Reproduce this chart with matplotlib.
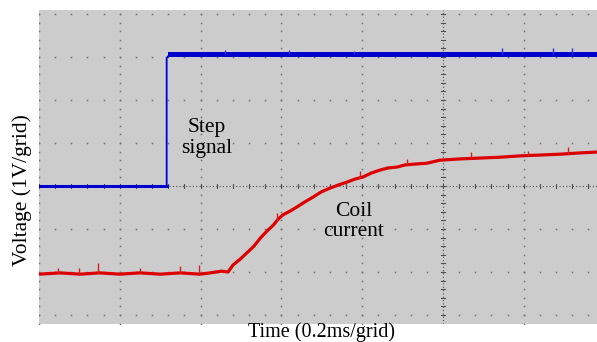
import numpy as np
import matplotlib
matplotlib.use('Agg')
import matplotlib.pyplot as plt

# values, in grid divisions (x: 0.2 ms/div, y: 1 V/div)
step_x = [0.0, 1.58, 1.58, 1.62, 6.91]
step_y = [0.0, 0.0, 2.98, 3.06, 3.06]
step_spike_x = [2.3, 3.1, 3.9, 5.73, 6.36, 6.60]
step_spike_y = [3.17, 3.16, 3.15, 3.21, 3.21, 3.21]

coil_x = [0.0, 0.26, 0.51, 0.75, 1.00, 1.25, 1.50, 1.75, 1.99, 2.12, 2.26, 2.34,
          2.40, 2.49, 2.57, 2.66, 2.74, 2.82, 2.90, 2.96, 3.02, 3.11, 3.19, 3.29,
          3.39, 3.49, 3.60, 3.70, 3.81, 3.91, 4.01, 4.11, 4.22, 4.32, 4.43, 4.53,
          4.65, 4.80, 4.96, 5.21, 5.46, 5.71, 5.95, 6.20, 6.45, 6.70, 6.91]
coil_y = [-2.05, -2.02, -2.05, -2.02, -2.05, -2.02, -2.05, -2.02, -2.05, -2.02, -1.98, -2.00,
          -1.84, -1.70, -1.56, -1.40, -1.21, -1.05, -0.91, -0.77, -0.67, -0.58, -0.49, -0.37,
          -0.26, -0.14, -0.05, 0.02, 0.09, 0.16, 0.21, 0.30, 0.37, 0.42, 0.44, 0.49,
          0.51, 0.53, 0.60, 0.63, 0.65, 0.67, 0.70, 0.72, 0.74, 0.77, 0.79]
coil_spike_x = [0.24, 0.50, 0.73, 1.25, 1.75, 1.98, 2.94, 3.97, 4.55, 5.35, 6.05, 6.55]
coil_spike_y = [-1.91, -1.91, -1.79, -1.91, -1.86, -1.84, -0.62, 0.35, 0.62, 0.78, 0.82, 0.90]

plt.rcParams['font.family'] = ['Liberation Serif', 'DejaVu Serif']

fig = plt.figure(figsize=(5.97, 3.42), dpi=100)
ax = fig.add_axes([39 / 597, 18 / 342, 558 / 597, 314 / 342])
ax.set_facecolor('#cccccc')
ax.set_xlim(0, 6.906)
ax.set_ylim(-3.209, 4.093)
for s in ax.spines.values():
    s.set_visible(False)
ax.set_xticks([])
ax.set_yticks([])

# scope graticule
dot = dict(ls='none', marker='s', ms=1.1, mew=0, color='#707070', zorder=1)
ys_minor = np.arange(-3.2, 4.01, 0.2)
xs_minor = np.arange(0, 6.91, 0.2)
for k in range(0, 7):
    if k != 5:
        ax.plot(np.full_like(ys_minor, k), ys_minor, **dot)
for k in range(-3, 5):
    if k != 0:
        ax.plot(xs_minor, np.full_like(xs_minor, k), **dot)
ax.axhline(0, color='#505050', lw=0.8, ls=(0, (1, 2)), zorder=1)
ax.axvline(5, color='#505050', lw=0.8, ls=(0, (1, 2)), zorder=1)
for xv in xs_minor:
    ax.plot([xv, xv], [-0.05, 0.05], color='#505050', lw=0.8, zorder=1)
for yv in ys_minor:
    ax.plot([4.97, 5.03], [yv, yv], color='#505050', lw=0.8, zorder=1)

ax.plot(step_x, step_y, color='#0000dd', lw=1.3, zorder=3)
ax.plot(step_x[3:], step_y[3:], color='#0000cc', lw=3.6, zorder=3)
ax.plot(step_x[:2], step_y[:2], color='#0000cc', lw=2.2, zorder=3)
ax.vlines(step_spike_x, 3.06, step_spike_y, color='#3333dd', lw=1.0, zorder=3)

ax.plot(coil_x, coil_y, color='#dd0000', lw=2.3, zorder=3)
ax.vlines(coil_spike_x, np.interp(coil_spike_x, coil_x, coil_y), coil_spike_y,
          color='#cc2222', lw=1.0, zorder=3)

ax.text(2.08, 1.12, 'Step\nsignal', ha='center', va='center', fontsize=15.5,
        linespacing=1.1)
ax.text(3.89, -0.83, 'Coil\ncurrent', ha='center', va='center', fontsize=15.5,
        linespacing=1.1)

fig.text(322 / 597, 5 / 342, 'Time (0.2ms/grid)', ha='center', va='baseline', fontsize=14.5)
fig.text(22 / 597, 152 / 342, 'Voltage (1V/grid)', ha='center', va='center',
         rotation=90, fontsize=15.5)

fig.savefig('out.png', dpi=100, facecolor='white')
